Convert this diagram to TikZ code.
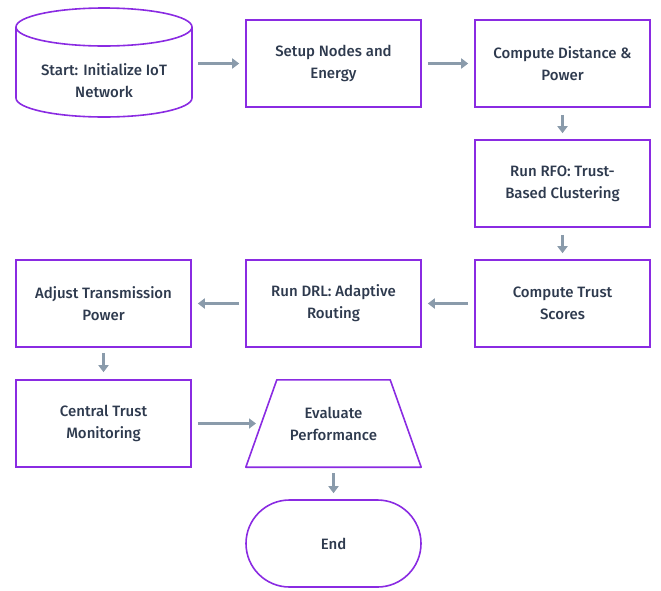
\documentclass[tikz,border=0pt]{standalone}
\usepackage{fontspec}
\setmainfont{Fira Sans}[UprightFont=* Medium]
\usetikzlibrary{arrows.meta}
\definecolor{edge}{HTML}{8A2BE2}
\definecolor{arr}{HTML}{8A9BAB}
\definecolor{txt}{HTML}{2E3A4E}
\tikzset{
  txtstyle/.style={align=center, text=txt, font=\fontsize{15}{22}\selectfont},
  box/.style={txtstyle, draw=edge, line width=1.6pt, minimum width=175pt, minimum height=87pt},
  shapeline/.style={draw=edge, line width=1.6pt},
  conn/.style={draw=arr, line width=3pt, -{Triangle[length=7pt,width=10pt]}},
}
\begin{document}
\begin{tikzpicture}[x=1pt,y=-1pt]
\useasboundingbox (0,0) rectangle (661,590);
% cylinder
\node[minimum width=176pt, minimum height=109pt] (start) at (104,62.5) {};
\draw[shapeline] (16,27) -- (16,98) arc[start angle=180, end angle=360, x radius=88pt, y radius=19pt] -- (192,27);
\draw[shapeline] (104,27) ellipse[x radius=88pt, y radius=19pt];
\node[txtstyle] (starttxt) at (104,81) {Start: Initialize IoT\\Network};
\node[box] (setup) at (333.5,63.5) {Setup Nodes and\\Energy};
\node[box] (dist) at (562.5,63.5) {Compute Distance \&\\Power};
\node[box] (rfo) at (562.5,183.5) {Run RFO: Trust-\\Based Clustering};
\node[box] (trust) at (562.5,303.5) {Compute Trust\\Scores};
\node[box] (drl) at (333.5,303.5) {Run DRL: Adaptive\\Routing};
\node[box] (adj) at (103.5,303.5) {Adjust Transmission\\Power};
\node[box] (central) at (103.5,423.5) {Central Trust\\Monitoring};
\node[txtstyle, minimum width=175pt, minimum height=87pt] (eval) at (333.5,423.5) {Evaluate\\Performance};
\draw[shapeline, line join=round] ([xshift=31pt]eval.north west) -- ([xshift=-31pt]eval.north east) -- (eval.south east) -- (eval.south west) -- cycle;
\node[box, rounded corners=43.5pt] (end) at (333.5,543.5) {End};
% connectors
\draw[conn] ([xshift=6pt]start.east |- setup.west) -- ([xshift=-6pt]setup.west);
\draw[conn] ([xshift=6pt]setup.east) -- ([xshift=-6pt]dist.west);
\draw[conn] ([yshift=-7pt]dist.south) -- ([yshift=6pt]rfo.north);
\draw[conn] ([yshift=-7pt]rfo.south) -- ([yshift=6pt]trust.north);
\draw[conn] ([xshift=-6pt]trust.west) -- ([xshift=6pt]drl.east);
\draw[conn] ([xshift=-6pt]drl.west) -- ([xshift=6pt]adj.east);
\draw[conn] ([yshift=-5pt]adj.south) -- ([yshift=7pt]central.north);
\coordinate (evalin) at (256,423.5);
\draw[conn] ([xshift=6pt]central.east) -- (evalin);
\draw[conn] ([yshift=-6pt]eval.south) -- ([yshift=6pt]end.north);
\end{tikzpicture}
\end{document}
